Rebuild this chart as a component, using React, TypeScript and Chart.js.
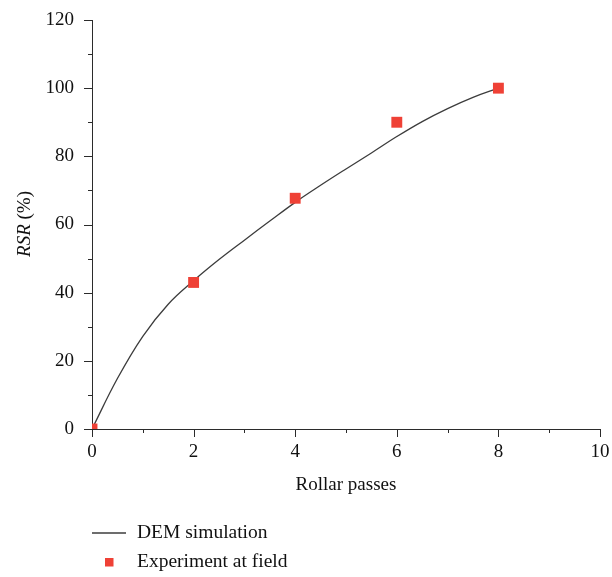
import React, { useEffect, useRef } from "react";
import { Chart, registerables } from "chart.js";

Chart.register(...registerables);

const simX = [0, 0.5, 1, 1.5, 2, 2.5, 3, 3.5, 4, 4.5, 5, 5.5, 6, 6.5, 7, 7.5, 8];
const simY = [0, 14.8, 27.2, 36.6, 43.5, 49.7, 55.4, 61, 66.5, 71.5, 76.3, 81, 85.8, 90.2, 94, 97.3, 100];
const expX = [0, 2, 4, 6, 8];
const expY = [0, 43, 67.7, 90, 100];
const xTicks = [0, 2, 4, 6, 8, 10];
const yTicks = [0, 20, 40, 60, 80, 100, 120];
const xTitle = "Rollar passes";
const yTitleItalic = "RSR";
const yTitleRest = " (%)";
const legendLabels = ["DEM simulation", "Experiment at field"];

const FONT = "'Liberation Serif', 'Times New Roman', serif";
const AXIS = "#2b2b2b";
const LINE = "#3c3c3c";
const RED = "#ef4136";

const decorPlugin = {
  id: "decor",
  afterDraw(chart: any) {
    const ctx = chart.ctx as CanvasRenderingContext2D;
    const xs = chart.scales.x;
    const ys = chart.scales.y;
    const area = chart.chartArea;
    ctx.save();
    ctx.strokeStyle = AXIS;
    ctx.lineWidth = 1;
    for (let v = 0; v <= 10; v += 1) {
      const px = Math.round(xs.getPixelForValue(v)) + 0.5;
      const len = v % 2 === 0 ? 8 : 4;
      ctx.beginPath();
      ctx.moveTo(px, area.bottom);
      ctx.lineTo(px, area.bottom + len);
      ctx.stroke();
    }
    for (let v = 0; v <= 120; v += 10) {
      const py = Math.round(ys.getPixelForValue(v)) + 0.5;
      const len = v % 20 === 0 ? 8 : 4;
      ctx.beginPath();
      ctx.moveTo(area.left, py);
      ctx.lineTo(area.left - len, py);
      ctx.stroke();
    }
    ctx.fillStyle = "#111";
    ctx.font = `19px ${FONT}`;
    ctx.textAlign = "center";
    ctx.textBaseline = "middle";
    ctx.fillText(xTitle, (area.left + area.right) / 2, 485);
    ctx.save();
    ctx.translate(25, 224);
    ctx.rotate(-Math.PI / 2);
    ctx.font = `italic 19px ${FONT}`;
    const w1 = ctx.measureText(yTitleItalic).width;
    ctx.font = `19px ${FONT}`;
    const w2 = ctx.measureText(yTitleRest).width;
    const start = -(w1 + w2) / 2;
    ctx.textAlign = "left";
    ctx.font = `italic 19px ${FONT}`;
    ctx.fillText(yTitleItalic, start, 0);
    ctx.font = `19px ${FONT}`;
    ctx.fillText(yTitleRest, start + w1, 0);
    ctx.restore();
    ctx.strokeStyle = LINE;
    ctx.lineWidth = 1.3;
    ctx.beginPath();
    ctx.moveTo(92, 533);
    ctx.lineTo(126, 533);
    ctx.stroke();
    ctx.fillStyle = RED;
    ctx.fillRect(105, 558, 8.5, 8.5);
    ctx.fillStyle = "#111";
    ctx.font = `19.5px ${FONT}`;
    ctx.textAlign = "left";
    ctx.textBaseline = "middle";
    ctx.fillText(legendLabels[0], 137, 533);
    ctx.fillText(legendLabels[1], 137, 562);
    ctx.restore();
  },
};

export default function App() {
  const ref = useRef<HTMLCanvasElement | null>(null);
  useEffect(() => {
    if (!ref.current) return;
    const chart = new Chart(ref.current, {
      type: "scatter",
      data: {
        datasets: [
          {
            label: legendLabels[1],
            data: expX.map((x, i) => ({ x, y: expY[i] })),
            showLine: false,
            pointStyle: "rect",
            pointRadius: 7.7,
            pointHoverRadius: 7.7,
            backgroundColor: RED,
            borderWidth: 0,
            order: 0,
            clip: 0,
          } as any,
          {
            label: legendLabels[0],
            data: simX.map((x, i) => ({ x, y: simY[i] })),
            showLine: true,
            pointRadius: 0,
            borderColor: LINE,
            borderWidth: 1.3,
            tension: 0.4,
            fill: false,
            order: 1,
          } as any,
        ],
      },
      options: {
        animation: false,
        responsive: false,
        events: [],
        layout: { padding: { left: 0, right: 12, top: 20, bottom: 0 } },
        plugins: { legend: { display: false }, tooltip: { enabled: false } },
        scales: {
          x: {
            type: "linear",
            min: 0,
            max: 10,
            afterFit: (s: any) => {
              s.height = 148;
              s.paddingLeft = 0;
              s.paddingRight = 0;
            },
            afterBuildTicks: (s: any) => {
              s.ticks = xTicks.map((v) => ({ value: v }));
            },
            grid: { display: false, drawTicks: false, tickLength: 0 },
            border: { display: true, color: AXIS, width: 1 },
            ticks: {
              padding: 12,
              color: "#111",
              font: { family: FONT, size: 19 },
              maxRotation: 0,
            },
          },
          y: {
            type: "linear",
            min: 0,
            max: 120,
            afterFit: (s: any) => {
              s.width = 92;
              s.paddingTop = 0;
              s.paddingBottom = 0;
            },
            afterBuildTicks: (s: any) => {
              s.ticks = yTicks.map((v) => ({ value: v }));
            },
            grid: { display: false, drawTicks: false, tickLength: 0 },
            border: { display: true, color: AXIS, width: 1 },
            ticks: {
              padding: 18,
              color: "#111",
              font: { family: FONT, size: 19 },
            },
          },
        },
      },
      plugins: [decorPlugin],
    });
    return () => chart.destroy();
  }, []);
  return (
    <div style={{ position: "absolute", left: 0, top: 0, width: 612, height: 577, background: "#fff" }}>
      <canvas ref={ref} width={612} height={577} style={{ width: 612, height: 577, display: "block" }} />
    </div>
  );
}
